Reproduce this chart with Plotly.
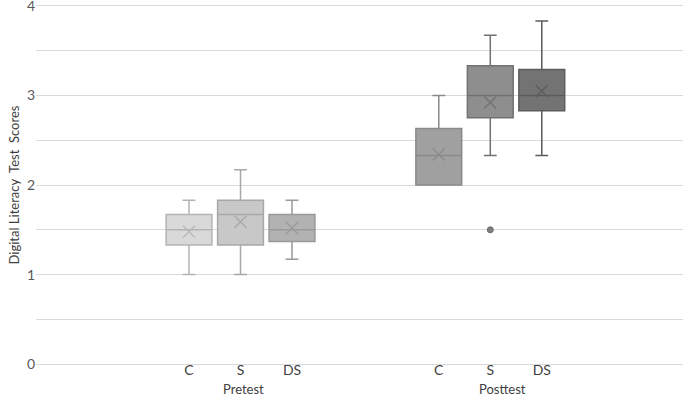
import plotly.graph_objects as go

groups = ["Pretest", "Pretest", "Pretest", "Posttest", "Posttest", "Posttest"]
conditions = ["C", "S", "DS", "C", "S", "DS"]
lower_whisker = [1.00, 1.00, 1.17, 2.00, 2.33, 2.33]
q1_values = [1.33, 1.33, 1.37, 2.00, 2.75, 2.83]
median_values = [1.50, 1.67, 1.50, 2.33, 3.00, 3.00]
q3_values = [1.67, 1.83, 1.67, 2.63, 3.33, 3.29]
upper_whisker = [1.83, 2.17, 1.83, 3.00, 3.67, 3.83]
mean_values = [1.48, 1.59, 1.52, 2.34, 2.92, 3.05]
outlier_condition = [4]          # index of the series with an outlier
outlier_values = [1.50]
y_ticks = [0, 1, 2, 3, 4]

# layout positions (slot units)
positions = [1, 2, 3, 5.85, 6.85, 7.85]
fills = ["#d9d9d9", "#c8c8c8", "#b2b2b2", "#a0a0a0", "#8e8e8e", "#737373"]
lines = ["#b4b4b4", "#a8a8a8", "#999999", "#8a8a8a", "#727272", "#5c5c5c"]

fig = go.Figure()
for i in range(len(conditions)):
    fig.add_trace(go.Box(
        x=[positions[i]], q1=[q1_values[i]], median=[median_values[i]],
        q3=[q3_values[i]], lowerfence=[lower_whisker[i]], upperfence=[upper_whisker[i]],
        width=0.89, whiskerwidth=0.28, fillcolor=fills[i],
        line=dict(color=lines[i], width=1.5), boxpoints=False,
        name=groups[i] + " " + conditions[i], hoverinfo="skip"))
    fig.add_trace(go.Scatter(
        x=[positions[i]], y=[mean_values[i]], mode="markers",
        marker=dict(symbol="x-thin", size=12, line=dict(color=lines[i], width=1.3)),
        hoverinfo="skip"))

fig.add_trace(go.Scatter(
    x=[positions[k] for k in outlier_condition], y=outlier_values, mode="markers",
    marker=dict(symbol="circle", size=6, color="#7f7f7f", line=dict(color="#6a6a6a", width=1)),
    hoverinfo="skip"))

font = "Lato, 'Open Sans', sans-serif"
fig.update_layout(
    width=685, height=396, showlegend=False,
    margin=dict(l=36, r=2, t=4, b=30),
    paper_bgcolor="white", plot_bgcolor="white",
    font=dict(family=font, size=14, color="#404040"),
    xaxis=dict(range=[-1.971, 10.592], tickvals=positions, ticktext=conditions,
               showgrid=False, zeroline=False, showline=False, ticks="",
               ticklabelstandoff=-6, automargin=False,
               tickfont=dict(size=14, color="#404040")),
    yaxis=dict(range=[-0.02, 4.02], tickvals=y_ticks, showgrid=True, gridcolor="#d9d9d9",
               gridwidth=1, zeroline=False, showline=False, ticks="",
               ticklabeloverflow="allow", automargin=False,
               tickfont=dict(size=14, color="#595959"),
               minor=dict(dtick=0.5, showgrid=True, gridcolor="#d9d9d9", gridwidth=1),
               title=dict(text="Digital Literacy\u00a0 Test\u00a0 Scores",
                          font=dict(size=13, color="#404040"), standoff=4)),
)
fig.add_annotation(x=2.05, y=0, xref="x", yref="paper", yanchor="top", yshift=-14,
                   text="Pretest", showarrow=False, borderpad=0,
                   font=dict(size=13, color="#404040"))
fig.add_annotation(x=7.08, y=0, xref="x", yref="paper", yanchor="top", yshift=-14,
                   text="Posttest", showarrow=False, borderpad=0,
                   font=dict(size=13, color="#404040"))

fig.write_html("out.html", post_script="document.body.style.margin='0';",
               config={"displayModeBar": False})
